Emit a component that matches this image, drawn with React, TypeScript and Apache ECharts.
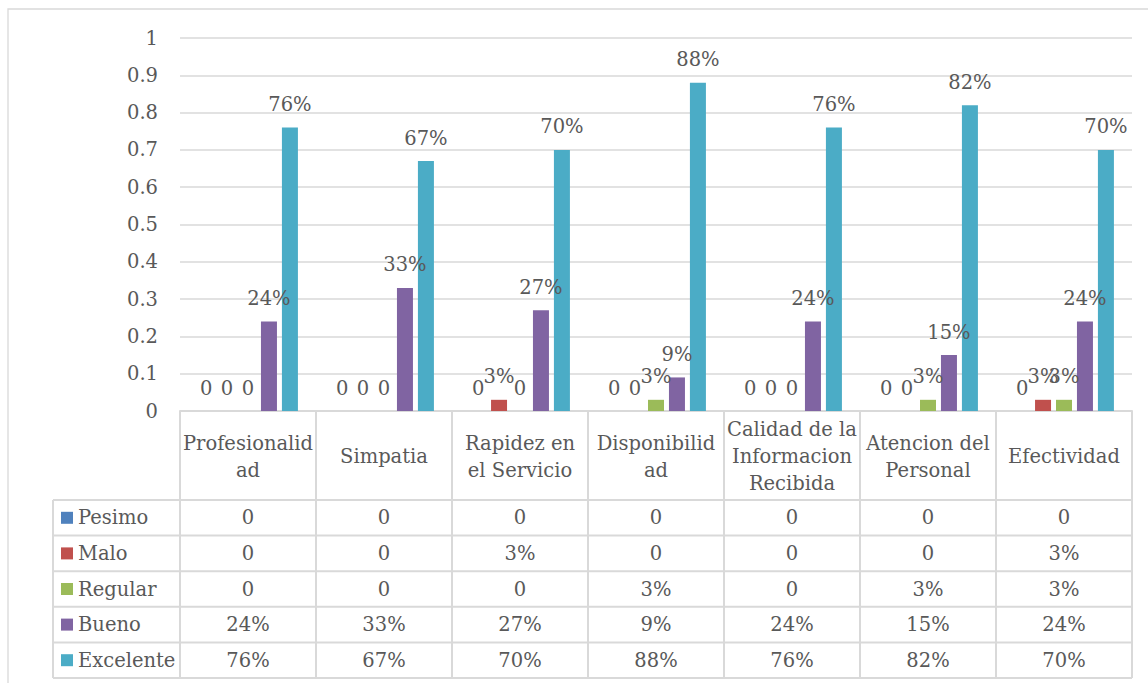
import React, { useEffect, useRef } from "react";
import * as echarts from "echarts";

// Survey results per service attribute, share of answers per rating
const categories = [
  "Profesionalidad",
  "Simpatia",
  "Rapidez en el Servicio",
  "Disponibilidad",
  "Calidad de la Informacion Recibida",
  "Atencion del Personal",
  "Efectividad",
];
// How each category name wraps inside its table header cell
const headerLines = [
  "Profesionalid\nad",
  "Simpatia",
  "Rapidez en\nel Servicio",
  "Disponibilid\nad",
  "Calidad de la\nInformacion\nRecibida",
  "Atencion del\nPersonal",
  "Efectividad",
];
const seriesNames = ["Pesimo", "Malo", "Regular", "Bueno", "Excelente"];
const pesimo = [0, 0, 0, 0, 0, 0, 0];
const malo = [0, 0, 0.03, 0, 0, 0, 0.03];
const regular = [0, 0, 0, 0.03, 0, 0.03, 0.03];
const bueno = [0.24, 0.33, 0.27, 0.09, 0.24, 0.15, 0.24];
const excelente = [0.76, 0.67, 0.7, 0.88, 0.76, 0.82, 0.7];
const seriesColors = ["#4f81bd", "#c0504d", "#9bbb59", "#8064a2", "#4bacc6"];

const allSeries = [pesimo, malo, regular, bueno, excelente];

const FONT = "DejaVu Serif";
const FS = 19.5;
const TEXT = "#595959";
const LINE = "#d9d9d9";

const fmt = (v: number) => (v === 0 ? "0" : Math.round(v * 100) + "%");

// Layout of the plot and the data table beneath it
const W = 1148;
const H = 683;
const PLOT_LEFT = 180;
const PLOT_RIGHT = 1132;
const PLOT_TOP = 38;
const PLOT_BOTTOM = 411;
const HEADER_BOTTOM = 500;
const TABLE_BOTTOM = 678;
const TABLE_LEFT = 53;

export default function App() {
  const ref = useRef<HTMLDivElement>(null);

  useEffect(() => {
    document.body.style.margin = "0";
    if (!ref.current) return;
    const chart = echarts.init(ref.current, undefined, { renderer: "svg" });

    const n = categories.length;
    const colW = (PLOT_RIGHT - PLOT_LEFT) / n;
    const rowH = (TABLE_BOTTOM - HEADER_BOTTOM) / seriesNames.length;

    const graphics: any[] = [];
    const textStyle = (text: string, x: number, y: number, align = "center") => ({
      text,
      x,
      y,
      fontSize: FS,
      fontFamily: FONT,
      fill: TEXT,
      align,
      verticalAlign: "middle",
      textAlign: align,
      textVerticalAlign: "middle",
      lineHeight: 27,
    });

    // outer chart frame
    graphics.push({
      type: "rect",
      shape: { x: 8, y: 9, width: 1400, height: 900 },
      style: { fill: "none", stroke: LINE, lineWidth: 1.3 },
      silent: true,
    });

    // horizontal table rules
    for (let r = 0; r <= seriesNames.length; r++) {
      const y = HEADER_BOTTOM + r * rowH;
      graphics.push({
        type: "line",
        shape: { x1: TABLE_LEFT, y1: y, x2: PLOT_RIGHT, y2: y },
        style: { stroke: LINE, lineWidth: 2 },
        silent: true,
      });
    }
    // vertical table rules
    graphics.push({
      type: "line",
      shape: { x1: TABLE_LEFT, y1: HEADER_BOTTOM, x2: TABLE_LEFT, y2: TABLE_BOTTOM },
      style: { stroke: LINE, lineWidth: 2 },
      silent: true,
    });
    for (let c = 0; c <= n; c++) {
      const x = PLOT_LEFT + c * colW;
      graphics.push({
        type: "line",
        shape: { x1: x, y1: PLOT_BOTTOM, x2: x, y2: TABLE_BOTTOM },
        style: { stroke: LINE, lineWidth: 2 },
        silent: true,
      });
    }

    // header cells
    headerLines.forEach((t, c) => {
      graphics.push({
        type: "text",
        style: textStyle(t, PLOT_LEFT + (c + 0.5) * colW, (PLOT_BOTTOM + HEADER_BOTTOM) / 2 + 1),
        silent: true,
      });
    });

    // rows: legend key + values
    seriesNames.forEach((name, r) => {
      const cy = HEADER_BOTTOM + (r + 0.5) * rowH;
      graphics.push({
        type: "rect",
        shape: { x: 61, y: cy - 6, width: 12, height: 12 },
        style: { fill: seriesColors[r] },
        silent: true,
      });
      graphics.push({
        type: "text",
        style: textStyle(name, 78, cy, "left"),
        silent: true,
      });
      allSeries[r].forEach((v, c) => {
        graphics.push({
          type: "text",
          style: textStyle(fmt(v), PLOT_LEFT + (c + 0.5) * colW, cy),
          silent: true,
        });
      });
    });

    chart.setOption({
      animation: false,
      backgroundColor: "#ffffff",
      textStyle: { fontFamily: FONT },
      grid: {
        left: PLOT_LEFT,
        right: W - PLOT_RIGHT,
        top: PLOT_TOP,
        bottom: H - PLOT_BOTTOM,
        containLabel: false,
      },
      xAxis: {
        type: "category",
        data: categories,
        axisLine: { show: true, lineStyle: { color: LINE, width: 2 } },
        axisTick: { show: false },
        axisLabel: { show: false },
      },
      yAxis: {
        type: "value",
        min: 0,
        max: 1,
        interval: 0.1,
        axisLine: { show: false },
        axisTick: { show: false },
        axisLabel: {
          margin: 22,
          color: TEXT,
          fontSize: FS,
          fontFamily: FONT,
          formatter: (v: number) => String(Math.round(v * 10) / 10),
        },
        splitLine: { lineStyle: { color: LINE, width: 1.5 } },
      },
      series: seriesNames.map((name, i) => ({
        name,
        type: "bar",
        data: allSeries[i],
        barWidth: 16,
        barGap: "31%",
        itemStyle: { color: seriesColors[i] },
        label: {
          show: true,
          position: "top",
          distance: 13,
          color: TEXT,
          fontSize: FS,
          fontFamily: FONT,
          formatter: (p: any) => fmt(p.value),
        },
      })),
      graphic: graphics,
    });

    return () => chart.dispose();
  }, []);

  return <div ref={ref} style={{ width: W, height: H }} />;
}
